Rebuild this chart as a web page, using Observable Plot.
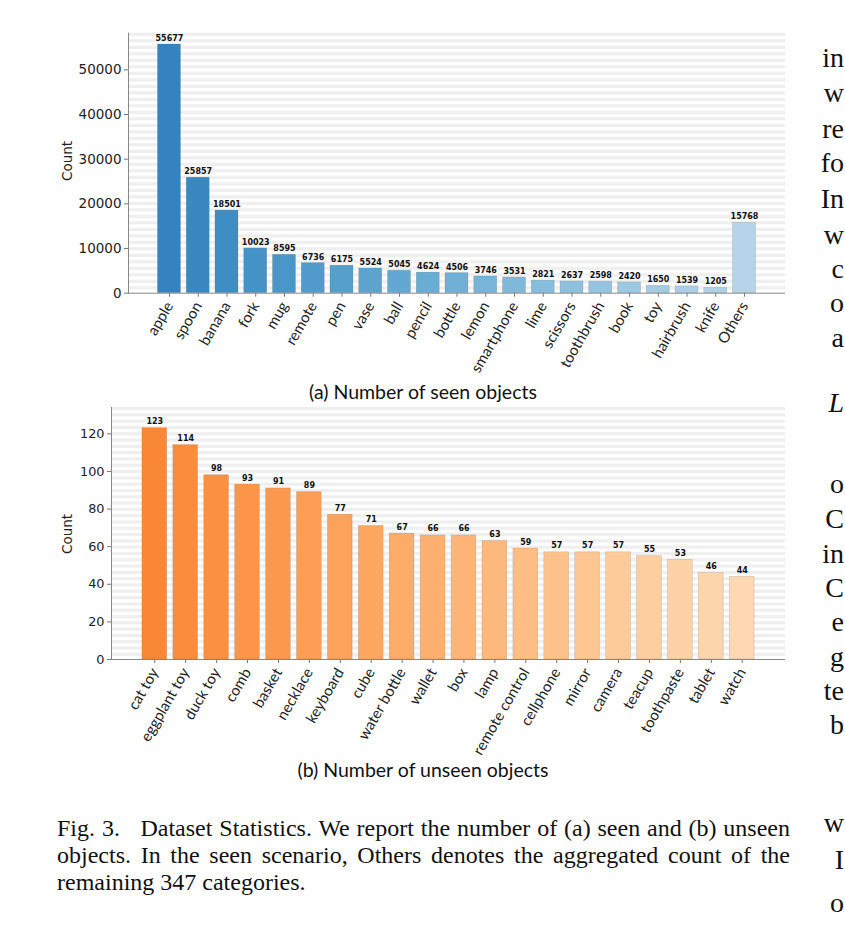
<!DOCTYPE html>
<html><head><meta charset="utf-8">
<script src="https://cdn.jsdelivr.net/npm/d3@7"></script>
<script src="https://cdn.jsdelivr.net/npm/@observablehq/plot@0.6"></script>
<style>
html,body{margin:0;padding:0;background:#fff;width:845px;height:927px;overflow:hidden;}
#page{position:relative;width:845px;height:927px;overflow:hidden;}
#page svg{position:absolute;left:0;background:none;}
.abs{position:absolute;white-space:nowrap;}
.sub{font-family:Lato,sans-serif;font-size:19.5px;color:#111;line-height:1;transform:translate(-50%,-50%);}
.ylab{font-family:"DejaVu Sans",sans-serif;font-size:13.5px;color:#222;line-height:1;transform:translate(-50%,-50%) rotate(-90deg);}
.cap{font-family:"Liberation Serif",serif;font-size:24px;line-height:27px;color:#111;left:57px;top:815px;width:733px;white-space:normal;}
.cap .j{text-align:justify;text-align-last:justify;white-space:nowrap;}
.side{font-family:"Liberation Serif",serif;font-size:28px;color:#111;line-height:1;right:1px;text-align:right;transform:translateY(-50%);}
</style></head>
<body><div id="page"></div>
<script>
// ---- data ----
const seenNames = ["apple","spoon","banana","fork","mug","remote","pen","vase","ball","pencil","bottle","lemon","smartphone","lime","scissors","toothbrush","book","toy","hairbrush","knife","Others"];
const seenCounts = [55677,25857,18501,10023,8595,6736,6175,5524,5045,4624,4506,3746,3531,2821,2637,2598,2420,1650,1539,1205,15768];
const seenTicks = [0,10000,20000,30000,40000,50000];
const unseenNames = ["cat toy","eggplant toy","duck toy","comb","basket","necklace","keyboard","cube","water bottle","wallet","box","lamp","remote control","cellphone","mirror","camera","teacup","toothpaste","tablet","watch"];
const unseenCounts = [123,114,98,93,91,89,77,71,67,66,66,63,59,57,57,57,55,53,46,44];
const unseenTicks = [0,20,40,60,80,100,120];
const subA = "(a) Number of seen objects";
const subB = "(b) Number of unseen objects";
const captionLines = ["Fig. 3.\u00a0\u00a0\u00a0Dataset Statistics. We report the number of (a) seen and (b) unseen","objects. In the seen scenario, Others denotes the aggregated count of the","remaining 347 categories."];
const sideText = [["in",60],["w",95],["re",131],["fo",165],["In",201],["w",237],["c",271],["o",305],["a",340],["L",405],["o",486],["C",521],["in",556],["C",590],["e",624],["g",659],["te",693],["b",727],["w",825],["I",862],["o",905]];

const page = document.getElementById("page");

function chart(o) {
  const data = o.names.map((n, i) => ({name: n, count: o.counts[i], idx: i}));
  const N = 40, P = o.ymax / N;
  const stripes = d3.range(N).map(k => ({y1: o.ymax - k * P - P / 2, y2: o.ymax - k * P}));
  const svg = Plot.plot({
    width: 845, height: o.height,
    marginTop: o.mt, marginBottom: o.mb, marginLeft: o.ml, marginRight: o.mr,
    style: {fontFamily: "DejaVu Sans", background: "none", overflow: "visible"},
    x: {domain: o.names, paddingInner: 0.2, paddingOuter: o.po, round: false, label: null},
    y: {domain: [0, o.ymax], label: null},
    color: {type: "linear", domain: [0, o.names.length - 1], interpolate: t => o.interp(o.lo + (o.hi - o.lo) * t)},
    marks: [
      Plot.rect(stripes, {y1: "y1", y2: "y2", fill: "#efefef"}),
      Plot.barY(data, {x: "name", y: "count", fill: "idx", stroke: "#666", strokeOpacity: 0.3, strokeWidth: 0.6}),
      Plot.text(data, {x: "name", y: "count", text: d => String(d.count), dy: o.dy, fontWeight: "bold", fontSize: 8, fill: "#111", fontFamily: "DejaVu Sans"}),
      Plot.axisY({ticks: o.ticks, tickSize: 4, tickPadding: 3, fontSize: o.yfs, stroke: "#777", fill: "#222", tickFormat: d => String(d), fontFamily: "DejaVu Sans", label: null}),
      Plot.axisX({tickSize: 4, tickPadding: 6, tickRotate: -60, fontSize: 15, fontFamily: "Lato", stroke: "#777", fill: "#222", label: null}),
      Plot.ruleY([0], {stroke: "#888"}),
      Plot.frame({anchor: "left", stroke: "#888"})
    ]
  });
  svg.style.top = o.top + "px";
  page.appendChild(svg);
}

chart({names: seenNames, counts: seenCounts, ticks: seenTicks, ymax: 58200,
  top: 0, height: 380, mt: 32.7, mb: 87.3, ml: 128, mr: 60, po: 1.025,
  interp: d3.interpolateBlues, lo: 0.68, hi: 0.3, dy: -6, yfs: 13.5});
chart({names: unseenNames, counts: unseenCounts, ticks: unseenTicks, ymax: 134,
  top: 380, height: 380, mt: 27, mb: 101, ml: 111, mr: 60, po: 1.0,
  interp: d3.interpolateOranges, lo: 0.52, hi: 0.2, dy: -6.5, yfs: 12.8});

function addDiv(cls, text, x, y) {
  const d = document.createElement("div");
  d.className = "abs " + cls;
  d.textContent = text;
  if (x != null) d.style.left = x + "px";
  if (y != null) d.style.top = y + "px";
  page.appendChild(d);
  return d;
}
addDiv("sub", subA, 423, 392);
addDiv("sub", subB, 423, 770);
addDiv("ylab", "Count", 68, 161);
addDiv("ylab", "Count", 68, 534);

const cap = document.createElement("div");
cap.className = "abs cap";
captionLines.forEach((t, i) => {
  const l = document.createElement("div");
  l.textContent = t;
  if (i < captionLines.length - 1) l.className = "j";
  cap.appendChild(l);
});
page.appendChild(cap);

sideText.forEach(([t, y]) => {
  const d = addDiv("side", t, null, y - 2);
  if (t === "L") d.style.fontStyle = "italic";
});
</script>
</body></html>
